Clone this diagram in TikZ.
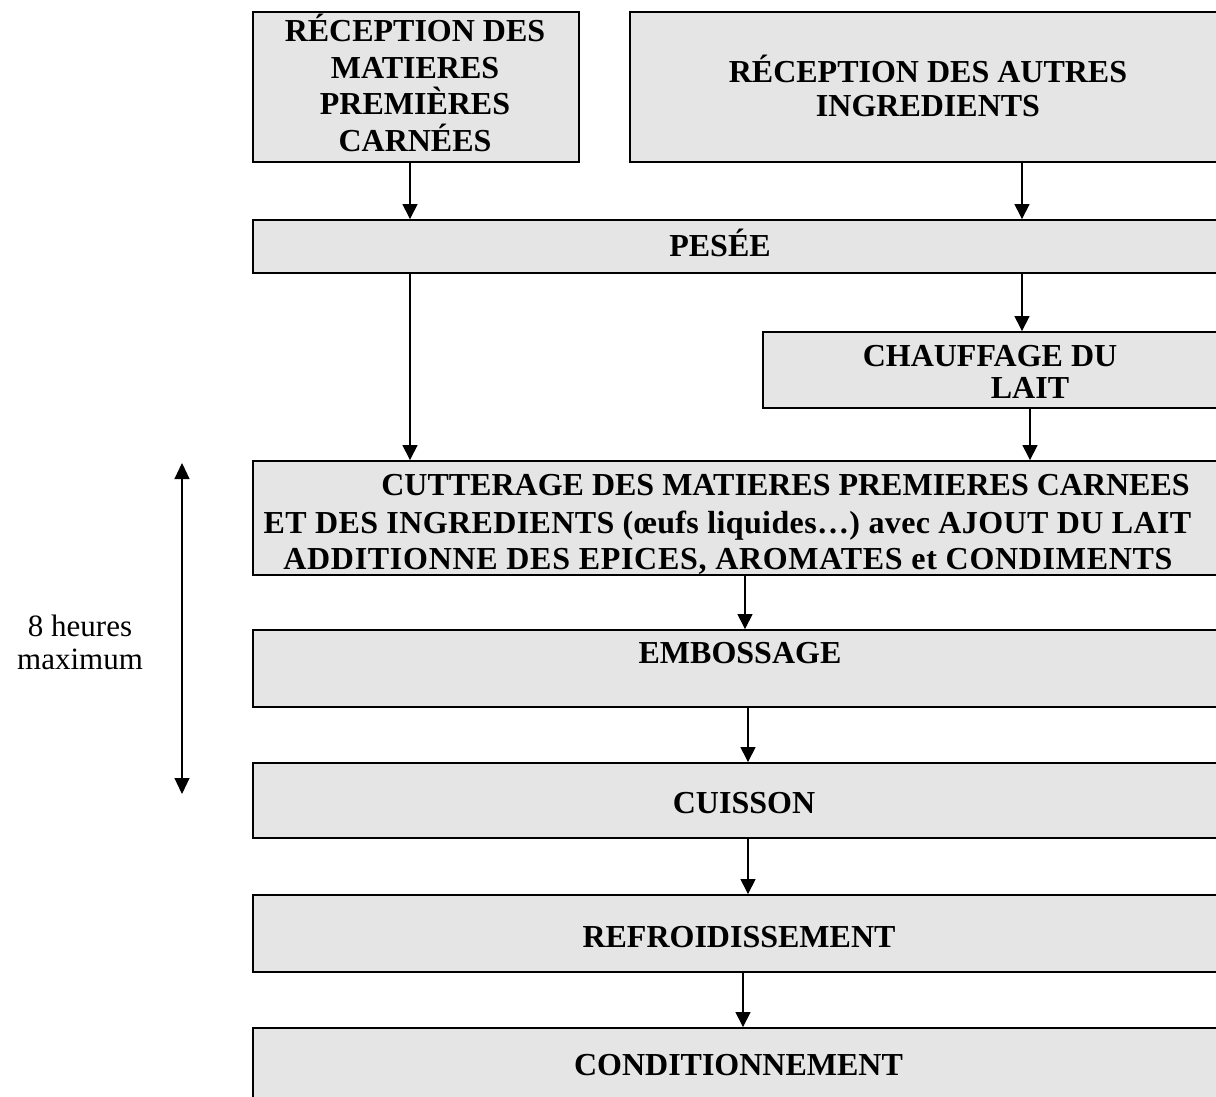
\documentclass[tikz,border=0pt]{standalone}
\usepackage{fontspec}
\setmainfont{Liberation Serif}
\usetikzlibrary{arrows.meta}
\begin{document}
\begin{tikzpicture}[x=1pt,y=-1pt,
  box/.style={draw=black, line width=1.8pt, fill=black!10, rectangle, inner sep=0pt},
  lbl/.style={font=\fontsize{32}{36.5}\selectfont\bfseries, inner sep=0pt, anchor=base},
  note/.style={font=\fontsize{31}{34}\selectfont, inner sep=0pt, anchor=base},
  arr/.style={line width=1.1pt, -{Triangle[length=15pt,width=15pt]}},
  darr/.style={line width=1.1pt, {Triangle[length=16pt,width=15pt]}-{Triangle[length=16pt,width=15pt]}}]
\useasboundingbox (0,0) rectangle (1216,1097);
\clip (0,0) rectangle (1216,1097);

% boxes
\node[box, minimum width=326pt, minimum height=150pt] (rA) at (416,87) {};
\node[box, minimum width=596pt, minimum height=150pt] (rB) at (928,87) {};
\node[box, minimum width=977pt, minimum height=53pt] (pes) at (741.5,246.5) {};
\node[box, minimum width=467pt, minimum height=76pt] (chauf) at (996.5,370) {};
\node[box, minimum width=977pt, minimum height=114pt] (cut) at (741.5,518) {};
\node[box, minimum width=977pt, minimum height=77pt] (emb) at (741.5,668.5) {};
\node[box, minimum width=977pt, minimum height=75pt] (cuis) at (741.5,800.5) {};
\node[box, minimum width=977pt, minimum height=77pt] (refr) at (741.5,933.5) {};
\node[box, minimum width=977pt, minimum height=82pt] (cond) at (741.5,1069) {};

% texts
\node[lbl] (tA1) at (415,42) {RÉCEPTION DES};
\node[lbl] (tA2) at (415,78.5) {MATIERES};
\node[lbl] (tA3) at (415,115) {PREMIÈRES};
\node[lbl] (tA4) at (415,151.5) {CARNÉES};
\node[lbl] (tB1) at (928,83) {RÉCEPTION DES AUTRES};
\node[lbl] (tB2) at (928,117) {INGREDIENTS};
\node[lbl] (tPes) at (720,256.5) {PESÉE};
\node[lbl] (tC1) at (990,366) {CHAUFFAGE DU};
\node[lbl] (tC2) at (1030,398) {LAIT};
\node[lbl, anchor=base east] (tU1) at (1190,495) {CUTTERAGE DES MATIERES PREMIERES CARNEES};
\node[lbl] (tU2) at (727.5,533) {\addfontfeatures{LetterSpace=1.2}ET DES INGREDIENTS (œufs liquides…) avec AJOUT DU LAIT};
\node[lbl] (tU3) at (728,569) {\addfontfeatures{LetterSpace=2.2}ADDITIONNE DES EPICES, AROMATES et CONDIMENTS};
\node[lbl] (tEmb) at (740,663) {EMBOSSAGE};
\node[lbl] (tCuis) at (744,813) {CUISSON};
\node[lbl] (tRefr) at (739,947) {REFROIDISSEMENT};
\node[lbl] (tCond) at (738.5,1075) {CONDITIONNEMENT};
\node[note] (n1) at (80,636) {8 heures};
\node[note] (n2) at (80,669) {maximum};

% columns for connectors
\coordinate (c1) at (410,0);
\coordinate (c2) at (1022,0);
\coordinate (c3) at (1030,0);
\coordinate (c4) at (745,0);
\coordinate (c5) at (748,0);
\coordinate (c6) at (743,0);

\draw[arr] (rA.south -| c1) -- (pes.north -| c1);
\draw[arr] (rB.south -| c2) -- (pes.north -| c2);
\draw[arr] (pes.south -| c1) -- (cut.north -| c1);
\draw[arr] (pes.south -| c2) -- (chauf.north -| c2);
\draw[arr] (chauf.south -| c3) -- (cut.north -| c3);
\draw[arr] (cut.south -| c4) -- (emb.north -| c4);
\draw[arr] (emb.south -| c5) -- (cuis.north -| c5);
\draw[arr] (cuis.south -| c5) -- (refr.north -| c5);
\draw[arr] (refr.south -| c6) -- (cond.north -| c6);

% 8 hours span
\coordinate (h1) at (182,463);
\coordinate (h2) at (182,794);
\draw[darr] (h1) -- (h2);
\end{tikzpicture}
\end{document}
